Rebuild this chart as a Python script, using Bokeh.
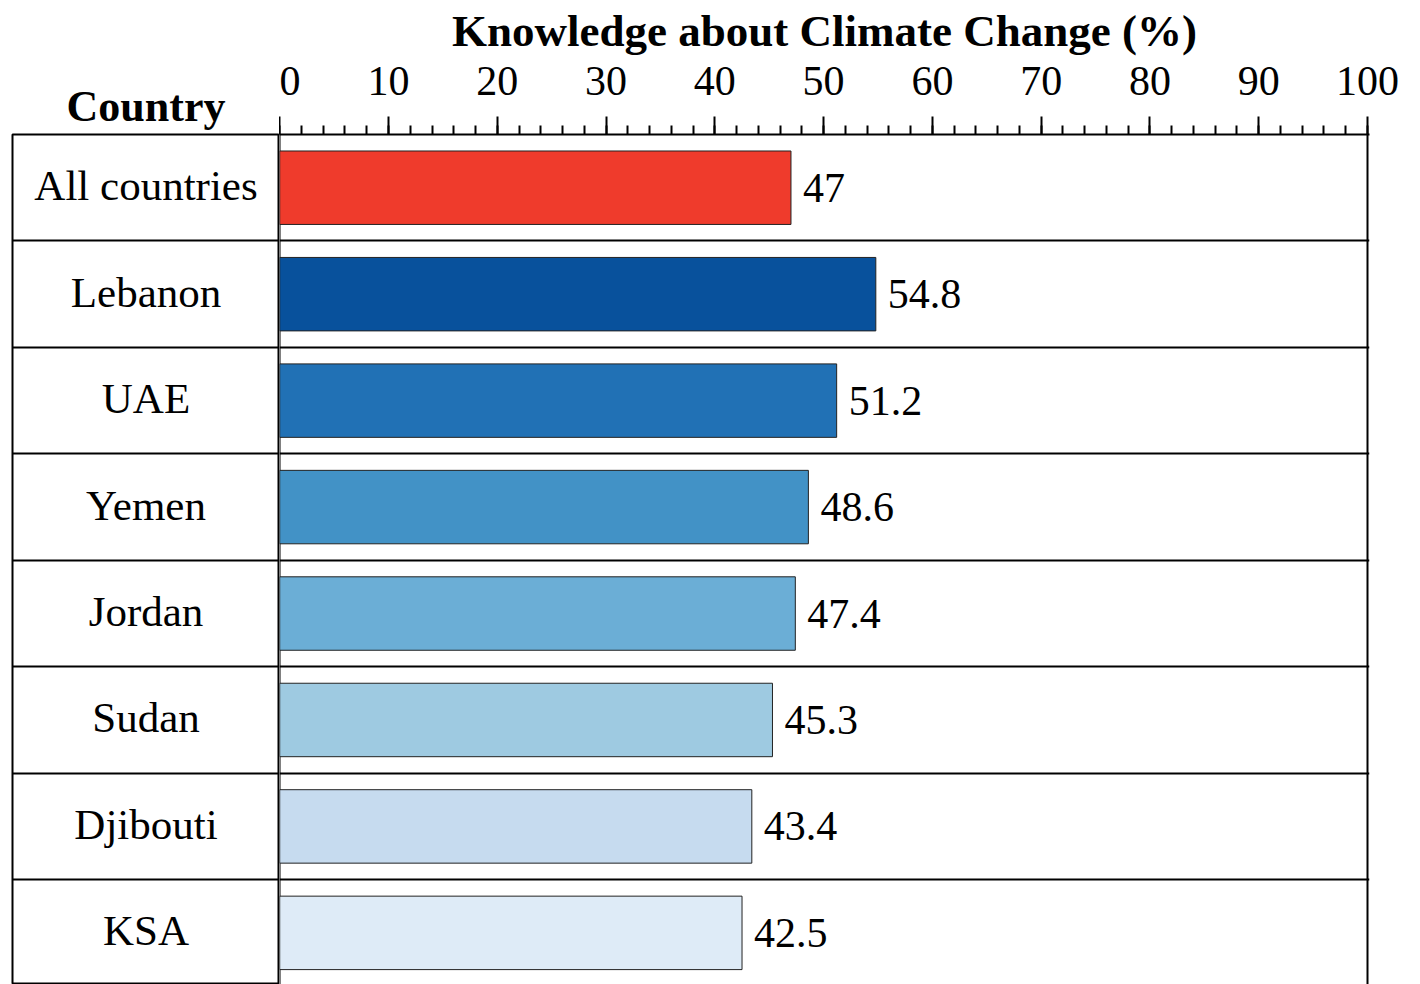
from bokeh.plotting import figure
from bokeh.layouts import row
from bokeh.models import Range1d, FixedTicker, ColumnDataSource
from bokeh.core.properties import value
from bokeh.embed import file_html
from bokeh.resources import INLINE

# ---- data ----
countries = ["All countries", "Lebanon", "UAE", "Yemen", "Jordan", "Sudan", "Djibouti", "KSA"]
knowledge = [47, 54.8, 51.2, 48.6, 47.4, 45.3, 43.4, 42.5]
colors = ["#ef3b2c", "#08519c", "#2171b5", "#4292c6", "#6baed6", "#9ecae1", "#c6dbef", "#deebf7"]
value_labels = ["47", "54.8", "51.2", "48.6", "47.4", "45.3", "43.4", "42.5"]
major_ticks = [0, 10, 20, 30, 40, 50, 60, 70, 80, 90, 100]
minor_ticks = list(range(0, 101, 2))
x_title = "Knowledge about Climate Change (%)"
y_title = "Country"

# ---- layout constants ----
FONT = "Liberation Serif"
PX = 10.88                 # pixels per % unit
SPLIT = 279                # window x where the bar figure starts (= 0 %)
TABLE_LEFT = 12
TOTAL_W, H = 1420, 984
TOP = 134                  # table top border
ROW_PX = 106.45
RIGHT_FRAME_END = 1369

rows = list(range(len(countries)))
y_bottom = -0.5 + (H - TOP) / ROW_PX

# ---------------- left column (country names) ----------------
pl = figure(width=SPLIT, height=H, output_backend="svg", toolbar_location=None,
            x_range=Range1d(0, 1), y_range=Range1d(y_bottom, -0.5),
            x_axis_location=None, y_axis_location=None,
            min_border_left=TABLE_LEFT, min_border_right=0,
            min_border_top=TOP, min_border_bottom=0)
pl.outline_line_color = "black"
pl.outline_line_width = 2
pl.xgrid.visible = False
pl.ygrid.ticker = FixedTicker(ticks=[r + 0.5 for r in rows[:-1]])
pl.ygrid.grid_line_color = "black"
pl.ygrid.grid_line_width = 2

pl.title.text = y_title
pl.title.align = "center"
pl.title.offset = 0
pl.title.text_font = FONT
pl.title.text_font_style = "bold"
pl.title.text_font_size = "44px"
pl.title.text_color = "black"
pl.title.vertical_align = "bottom"
pl.title.standoff = 8

lsrc = ColumnDataSource(dict(y=rows, name=countries, cx=[0.5] * len(rows)))
pl.text(x="cx", y="y", text="name", text_baseline="middle", text_align="center",
        y_offset=-2, text_font=value(FONT), text_font_size="43px", text_color="black",
        source=lsrc)

# ---------------- right part (bars + axis) ----------------
p = figure(width=TOTAL_W - SPLIT, height=H, output_backend="svg", toolbar_location=None,
           x_range=Range1d(-0.02, 100 + (RIGHT_FRAME_END - SPLIT - 100 * PX) / PX),
           y_range=Range1d(y_bottom, -0.5),
           x_axis_location="above", y_axis_location=None,
           min_border_left=0, min_border_right=TOTAL_W - RIGHT_FRAME_END,
           min_border_top=TOP, min_border_bottom=0)
p.outline_line_color = None

ax = p.xaxis[0]
ax.ticker = FixedTicker(ticks=major_ticks, minor_ticks=minor_ticks)
ax.axis_label = x_title
ax.axis_label_text_font = FONT
ax.axis_label_text_font_style = "bold"
ax.axis_label_text_font_size = "45px"
ax.axis_label_standoff = 8
ax.major_label_text_font = FONT
ax.major_label_text_font_size = "42px"
ax.major_label_standoff = 22
ax.major_tick_out = 18
ax.major_tick_in = 0
ax.minor_tick_out = 9
ax.minor_tick_in = 0
ax.axis_line_width = 2
ax.axis_line_color = "black"
ax.major_tick_line_width = 2
ax.minor_tick_line_width = 2
ax.major_tick_line_color = "black"
ax.minor_tick_line_color = "black"
ax.major_label_text_color = "black"
ax.axis_label_text_color = "black"

p.xgrid.ticker = FixedTicker(ticks=[0, 100])
p.xgrid.grid_line_color = "black"
p.xgrid.grid_line_width = 2
p.ygrid.ticker = FixedTicker(ticks=[r + 0.5 for r in rows[:-1]])
p.ygrid.grid_line_color = "black"
p.ygrid.grid_line_width = 2

src = ColumnDataSource(dict(y=rows, v=knowledge, c=colors, t=value_labels))
p.hbar(y="y", left=0, right="v", height=0.69, fill_color="c",
       line_color="#222222", line_width=1, source=src)
p.text(x="v", y="y", text="t", x_offset=12, text_baseline="middle", text_align="left",
       text_font=value(FONT), text_font_size="42px", text_color="black", source=src)

layout = row(pl, p, spacing=0)
open("out.html", "w").write(file_html(layout, INLINE))
